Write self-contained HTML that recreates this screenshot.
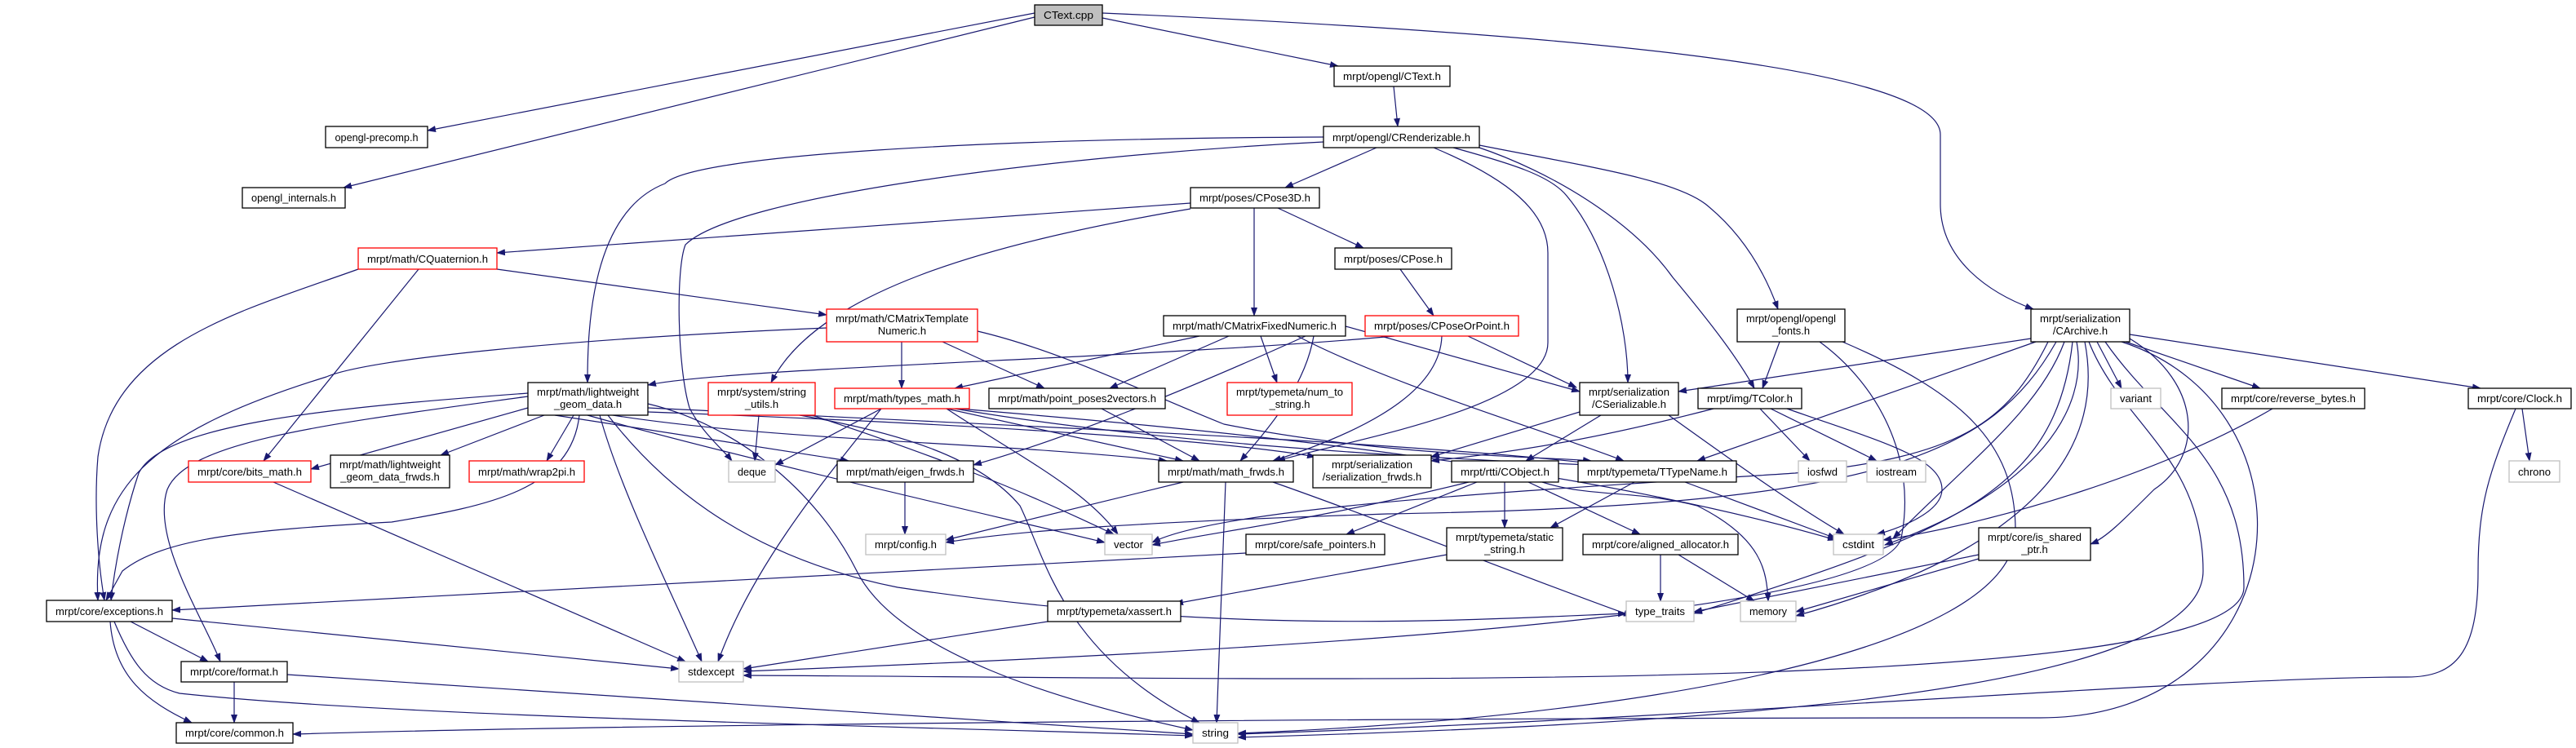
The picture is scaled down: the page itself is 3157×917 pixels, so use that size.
<!DOCTYPE html>
<html><head><meta charset="utf-8"><style>
html,body{margin:0;padding:0;background:#fff;}
svg{display:block;}
text{font-family:"Liberation Sans",Arial,sans-serif;font-size:13px;fill:#000;}
.e{fill:none;stroke:#191970;stroke-width:1.2;marker-end:url(#ah);}
.n{fill:#fff;stroke:#000;stroke-width:1.3;}
.r{fill:#fff;stroke:#ff0000;stroke-width:1.3;}
.g{fill:#fff;stroke:#bfbfbf;stroke-width:1.3;}
</style></head><body>
<svg width="3157" height="917" viewBox="0 0 3157 917" xmlns="http://www.w3.org/2000/svg">
<defs><marker id="ah" markerWidth="11" markerHeight="8" refX="10" refY="4" orient="auto" markerUnits="userSpaceOnUse"><path d="M0,0 L11,4 L0,8 z" fill="#191970"/></marker></defs>
<g>
<!-- edges -->
<path class="e" d="M1268,16 L524,160"/>
<path class="e" d="M1268,21 L421,230"/>
<path class="e" d="M1351,22 L1640,81"/>
<path class="e" d="M1351,16 C1900,40 2378,80 2378,165 L2378,250 C2378,320 2440,360 2492,379"/>
<path class="e" d="M1708,106 L1713,155"/>
<path class="e" d="M1687,181 L1575,230"/>
<path class="e" d="M1622,168 C1200,170 850,190 815,225 C725,260 720,400 720,469"/>
<path class="e" d="M1622,174 C1300,190 900,240 840,300 C828,330 830,450 845,500 C860,530 885,550 897,565"/>
<path class="e" d="M1757,181 C1850,220 1897,260 1897,310 L1897,420 C1897,500 1650,540 1565,565"/>
<path class="e" d="M1781,181 C1850,200 1900,215 1920,240 C1970,300 1995,400 1995,469"/>
<path class="e" d="M1810,180 C1900,210 2000,270 2050,340 C2100,400 2130,440 2150,476"/>
<path class="e" d="M1813,178 C1950,205 2050,220 2090,250 C2140,290 2165,340 2179,379"/>
<path class="e" d="M1459,249 L609,310"/>
<path class="e" d="M1459,256 C1200,300 1000,360 945,469"/>
<path class="e" d="M1566,255 L1671,304"/>
<path class="e" d="M1537,255 L1537,387"/>
<path class="e" d="M609,330 L1013,386"/>
<path class="e" d="M513,330 L323,565"/>
<path class="e" d="M439,330 C300,380 140,420 120,560 C115,620 120,690 128,736"/>
<path class="e" d="M1716,330 L1757,387"/>
<path class="e" d="M1013,402 C700,415 450,440 400,462 C180,530 112,600 120,736"/>
<path class="e" d="M1105,419 L1105,476"/>
<path class="e" d="M1155,419 L1280,476"/>
<path class="e" d="M1198,406 C1300,430 1400,480 1500,520 C1700,560 1900,560 1950,565"/>
<path class="e" d="M1470,412 L1170,476"/>
<path class="e" d="M1506,412 L1360,476"/>
<path class="e" d="M1545,412 L1565,469"/>
<path class="e" d="M1649,400 L1936,480"/>
<path class="e" d="M1610,412 C1600,470 1560,520 1520,565"/>
<path class="e" d="M1600,412 C1450,480 1300,540 1193,570"/>
<path class="e" d="M1590,412 C1700,470 1900,530 1990,565"/>
<path class="e" d="M1709,412 C1400,440 900,450 794,472"/>
<path class="e" d="M1799,412 L1932,475"/>
<path class="e" d="M1767,412 C1765,470 1700,520 1560,565"/>
<path class="e" d="M2181,419 L2160,476"/>
<path class="e" d="M2258,419 C2400,480 2470,540 2470,650 C2470,800 2000,880 1517,899"/>
<path class="e" d="M2230,419 C2300,470 2350,560 2330,660 C2300,760 1500,800 911,823"/>
<path class="e" d="M2489,415 L2057,480"/>
<path class="e" d="M2495,419 L2080,565"/>
<path class="e" d="M2570,419 L2600,476"/>
<path class="e" d="M2605,419 L2770,476"/>
<path class="e" d="M2610,410 L3040,476"/>
<path class="e" d="M2530,419 C2500,500 2420,560 2320,660"/>
<path class="e" d="M2545,419 C2560,500 2500,600 2310,668"/>
<path class="e" d="M2610,415 C2700,470 2700,560 2640,600 C2600,640 2580,660 2562,667"/>
<path class="e" d="M2520,419 C2440,560 2300,620 1700,630 C1400,640 1250,650 1159,665"/>
<path class="e" d="M2510,419 C2460,520 2400,560 2200,580 C1900,600 1500,620 1412,665"/>
<path class="e" d="M2560,419 C2600,520 2700,560 2700,700 C2700,860 2000,890 1517,904"/>
<path class="e" d="M2580,419 C2650,520 2750,560 2750,720 C2750,860 1500,830 911,828"/>
<path class="e" d="M2600,419 C2850,500 2820,880 2500,880 C1500,880 700,890 359,900"/>
<path class="e" d="M2555,419 C2590,600 2400,700 2201,755"/>
<path class="e" d="M2540,419 C2520,600 2400,650 2076,752"/>
<path class="e" d="M647,500 L381,575"/>
<path class="e" d="M667,509 L540,558"/>
<path class="e" d="M703,509 L670,565"/>
<path class="e" d="M647,482 C400,500 200,520 170,580 C150,640 140,700 136,736"/>
<path class="e" d="M647,486 C400,520 230,540 205,600 C185,660 250,760 270,811"/>
<path class="e" d="M680,509 L1040,565"/>
<path class="e" d="M700,500 C900,540 1200,540 1430,565"/>
<path class="e" d="M794,500 C1200,520 1700,540 1950,568"/>
<path class="e" d="M794,505 C1200,520 1500,540 1612,560"/>
<path class="e" d="M735,509 C760,600 820,720 860,811"/>
<path class="e" d="M720,509 C900,560 1250,640 1354,665"/>
<path class="e" d="M794,495 C900,520 1000,600 1050,700 C1100,800 1300,860 1462,895"/>
<path class="e" d="M745,509 C800,580 900,680 1100,720 C1500,780 1800,760 1993,752"/>
<path class="e" d="M710,509 C700,600 600,620 480,640 C300,650 200,660 150,700 L130,736"/>
<path class="e" d="M930,509 L925,565"/>
<path class="e" d="M995,509 C1150,560 1250,600 1365,655"/>
<path class="e" d="M980,509 C1100,530 1200,560 1250,620 C1280,680 1300,800 1470,886"/>
<path class="e" d="M1080,501 L950,570"/>
<path class="e" d="M1080,501 C1000,600 920,700 880,811"/>
<path class="e" d="M1160,501 C1250,560 1330,600 1370,655"/>
<path class="e" d="M1160,501 L1450,565"/>
<path class="e" d="M1170,501 C1400,540 1700,560 1950,570"/>
<path class="e" d="M1175,501 C1400,520 1900,560 2250,662"/>
<path class="e" d="M1350,501 L1470,565"/>
<path class="e" d="M1109,591 L1109,655"/>
<path class="e" d="M1450,591 L1159,662"/>
<path class="e" d="M1502,591 L1491,886"/>
<path class="e" d="M1560,591 C1700,640 1900,720 2000,755"/>
<path class="e" d="M335,591 L840,811"/>
<path class="e" d="M160,762 L255,811"/>
<path class="e" d="M135,762 C140,830 180,860 235,886"/>
<path class="e" d="M140,762 C160,810 180,840 220,850 C500,880 1100,890 1462,902"/>
<path class="e" d="M211,758 L832,820"/>
<path class="e" d="M287,836 L287,886"/>
<path class="e" d="M352,827 L1462,900"/>
<path class="e" d="M1527,678 L211,748"/>
<path class="e" d="M1773,680 L1440,740"/>
<path class="e" d="M1284,762 L911,820"/>
<path class="e" d="M1936,505 L1754,560"/>
<path class="e" d="M1962,509 L1870,565"/>
<path class="e" d="M2045,509 C2130,570 2200,620 2260,655"/>
<path class="e" d="M2157,501 L2218,565"/>
<path class="e" d="M2170,501 L2300,565"/>
<path class="e" d="M2190,501 C2300,540 2380,560 2380,600 C2380,630 2320,650 2300,655"/>
<path class="e" d="M2100,501 C1950,540 1850,555 1754,565"/>
<path class="e" d="M1810,591 L1650,655"/>
<path class="e" d="M1844,591 L1844,647"/>
<path class="e" d="M1873,591 L2010,655"/>
<path class="e" d="M1890,591 C1950,610 2000,600 2080,620 C2160,660 2165,700 2167,737"/>
<path class="e" d="M1800,591 C1600,640 1500,650 1412,668"/>
<path class="e" d="M2003,591 L1900,647"/>
<path class="e" d="M2065,591 L2250,660"/>
<path class="e" d="M2035,680 L2035,737"/>
<path class="e" d="M2057,680 L2150,737"/>
<path class="e" d="M2425,680 L2076,750"/>
<path class="e" d="M2425,685 L2201,750"/>
<path class="e" d="M2785,501 C2650,580 2450,640 2308,662"/>
<path class="e" d="M3091,501 L3100,565"/>
<path class="e" d="M3083,501 C3050,580 3037,620 3037,700 C3037,800 3010,830 2950,830 C2700,830 2100,880 1517,900"/>
</g>
<g>
<!-- nodes -->
<rect x="1268" y="6" width="83" height="25" fill="#bfbfbf" stroke="#000" stroke-width="1.3"/><text x="1309.5" y="23" text-anchor="middle" textLength="61" lengthAdjust="spacingAndGlyphs">CText.cpp</text>
<rect class="n" x="399" y="155" width="125" height="26"/><text x="461.5" y="173" text-anchor="middle" textLength="102" lengthAdjust="spacingAndGlyphs">opengl-precomp.h</text>
<rect class="n" x="297" y="230" width="126" height="25"/><text x="360" y="247" text-anchor="middle" textLength="104" lengthAdjust="spacingAndGlyphs">opengl_internals.h</text>
<rect class="n" x="1635" y="81" width="142" height="25"/><text x="1706" y="98" text-anchor="middle" textLength="120" lengthAdjust="spacingAndGlyphs">mrpt/opengl/CText.h</text>
<rect class="n" x="1622" y="155" width="191" height="26"/><text x="1717.5" y="173" text-anchor="middle" textLength="169" lengthAdjust="spacingAndGlyphs">mrpt/opengl/CRenderizable.h</text>
<rect class="n" x="1459" y="230" width="158" height="25"/><text x="1538" y="247" text-anchor="middle" textLength="136" lengthAdjust="spacingAndGlyphs">mrpt/poses/CPose3D.h</text>
<rect class="r" x="439" y="304" width="170" height="26"/><text x="524" y="322" text-anchor="middle" textLength="148" lengthAdjust="spacingAndGlyphs">mrpt/math/CQuaternion.h</text>
<rect class="n" x="1636" y="304" width="143" height="26"/><text x="1707.5" y="322" text-anchor="middle" textLength="121" lengthAdjust="spacingAndGlyphs">mrpt/poses/CPose.h</text>
<rect class="r" x="1013" y="379" width="185" height="40"/><text x="1105.5" y="395" text-anchor="middle" textLength="163" lengthAdjust="spacingAndGlyphs">mrpt/math/CMatrixTemplate</text><text x="1105.5" y="410" text-anchor="middle">Numeric.h</text>
<rect class="n" x="1426" y="387" width="223" height="25"/><text x="1537.5" y="404" text-anchor="middle" textLength="201" lengthAdjust="spacingAndGlyphs">mrpt/math/CMatrixFixedNumeric.h</text>
<rect class="r" x="1673" y="387" width="188" height="25"/><text x="1767" y="404" text-anchor="middle" textLength="166" lengthAdjust="spacingAndGlyphs">mrpt/poses/CPoseOrPoint.h</text>
<rect class="n" x="2129" y="379" width="132" height="40"/><text x="2195" y="395" text-anchor="middle" textLength="110" lengthAdjust="spacingAndGlyphs">mrpt/opengl/opengl</text><text x="2195" y="410" text-anchor="middle">_fonts.h</text>
<rect class="n" x="2489" y="379" width="121" height="40"/><text x="2549.5" y="395" text-anchor="middle" textLength="99" lengthAdjust="spacingAndGlyphs">mrpt/serialization</text><text x="2549.5" y="410" text-anchor="middle">/CArchive.h</text>
<rect class="n" x="647" y="469" width="147" height="40"/><text x="720.5" y="485" text-anchor="middle" textLength="125" lengthAdjust="spacingAndGlyphs">mrpt/math/lightweight</text><text x="720.5" y="500" text-anchor="middle">_geom_data.h</text>
<rect class="r" x="868" y="469" width="131" height="40"/><text x="933.5" y="485" text-anchor="middle" textLength="109" lengthAdjust="spacingAndGlyphs">mrpt/system/string</text><text x="933.5" y="500" text-anchor="middle">_utils.h</text>
<rect class="r" x="1023" y="476" width="165" height="25"/><text x="1105.5" y="493" text-anchor="middle" textLength="143" lengthAdjust="spacingAndGlyphs">mrpt/math/types_math.h</text>
<rect class="n" x="1212" y="476" width="216" height="25"/><text x="1320" y="493" text-anchor="middle" textLength="194" lengthAdjust="spacingAndGlyphs">mrpt/math/point_poses2vectors.h</text>
<rect class="r" x="1504" y="469" width="153" height="40"/><text x="1580.5" y="485" text-anchor="middle" textLength="131" lengthAdjust="spacingAndGlyphs">mrpt/typemeta/num_to</text><text x="1580.5" y="500" text-anchor="middle">_string.h</text>
<rect class="n" x="1936" y="469" width="121" height="40"/><text x="1996.5" y="485" text-anchor="middle" textLength="99" lengthAdjust="spacingAndGlyphs">mrpt/serialization</text><text x="1996.5" y="500" text-anchor="middle">/CSerializable.h</text>
<rect class="n" x="2081" y="476" width="127" height="25"/><text x="2144.5" y="493" text-anchor="middle" textLength="105" lengthAdjust="spacingAndGlyphs">mrpt/img/TColor.h</text>
<rect class="g" x="2587" y="476" width="61" height="25"/><text x="2617.5" y="493" text-anchor="middle" textLength="39" lengthAdjust="spacingAndGlyphs">variant</text>
<rect class="n" x="2723" y="476" width="175" height="25"/><text x="2810.5" y="493" text-anchor="middle" textLength="153" lengthAdjust="spacingAndGlyphs">mrpt/core/reverse_bytes.h</text>
<rect class="n" x="3025" y="476" width="126" height="25"/><text x="3088" y="493" text-anchor="middle" textLength="104" lengthAdjust="spacingAndGlyphs">mrpt/core/Clock.h</text>
<rect class="r" x="231" y="565" width="150" height="26"/><text x="306" y="583" text-anchor="middle" textLength="128" lengthAdjust="spacingAndGlyphs">mrpt/core/bits_math.h</text>
<rect class="n" x="405" y="558" width="146" height="40"/><text x="478" y="574" text-anchor="middle" textLength="124" lengthAdjust="spacingAndGlyphs">mrpt/math/lightweight</text><text x="478" y="589" text-anchor="middle">_geom_data_frwds.h</text>
<rect class="r" x="575" y="565" width="141" height="26"/><text x="645.5" y="583" text-anchor="middle" textLength="119" lengthAdjust="spacingAndGlyphs">mrpt/math/wrap2pi.h</text>
<rect class="g" x="893" y="565" width="57" height="26"/><text x="921.5" y="583" text-anchor="middle" textLength="35" lengthAdjust="spacingAndGlyphs">deque</text>
<rect class="n" x="1026" y="565" width="167" height="26"/><text x="1109.5" y="583" text-anchor="middle" textLength="145" lengthAdjust="spacingAndGlyphs">mrpt/math/eigen_frwds.h</text>
<rect class="n" x="1420" y="565" width="165" height="26"/><text x="1502.5" y="583" text-anchor="middle" textLength="143" lengthAdjust="spacingAndGlyphs">mrpt/math/math_frwds.h</text>
<rect class="n" x="1609" y="558" width="145" height="40"/><text x="1681.5" y="574" text-anchor="middle" textLength="99" lengthAdjust="spacingAndGlyphs">mrpt/serialization</text><text x="1681.5" y="589" text-anchor="middle">/serialization_frwds.h</text>
<rect class="n" x="1779" y="565" width="131" height="26"/><text x="1844.5" y="583" text-anchor="middle" textLength="109" lengthAdjust="spacingAndGlyphs">mrpt/rtti/CObject.h</text>
<rect class="n" x="1934" y="565" width="194" height="26"/><text x="2031" y="583" text-anchor="middle" textLength="172" lengthAdjust="spacingAndGlyphs">mrpt/typemeta/TTypeName.h</text>
<rect class="g" x="2204" y="565" width="59" height="26"/><text x="2233.5" y="583" text-anchor="middle" textLength="37" lengthAdjust="spacingAndGlyphs">iosfwd</text>
<rect class="g" x="2288" y="565" width="72" height="26"/><text x="2324" y="583" text-anchor="middle" textLength="50" lengthAdjust="spacingAndGlyphs">iostream</text>
<rect class="g" x="3075" y="565" width="62" height="26"/><text x="3106" y="583" text-anchor="middle" textLength="40" lengthAdjust="spacingAndGlyphs">chrono</text>
<rect class="g" x="1061" y="655" width="98" height="25"/><text x="1110" y="672" text-anchor="middle" textLength="76" lengthAdjust="spacingAndGlyphs">mrpt/config.h</text>
<rect class="g" x="1354" y="655" width="58" height="25"/><text x="1383" y="672" text-anchor="middle" textLength="36" lengthAdjust="spacingAndGlyphs">vector</text>
<rect class="n" x="1527" y="655" width="170" height="25"/><text x="1612" y="672" text-anchor="middle" textLength="148" lengthAdjust="spacingAndGlyphs">mrpt/core/safe_pointers.h</text>
<rect class="n" x="1773" y="647" width="142" height="40"/><text x="1844" y="663" text-anchor="middle" textLength="120" lengthAdjust="spacingAndGlyphs">mrpt/typemeta/static</text><text x="1844" y="678" text-anchor="middle">_string.h</text>
<rect class="n" x="1940" y="655" width="190" height="25"/><text x="2035" y="672" text-anchor="middle" textLength="168" lengthAdjust="spacingAndGlyphs">mrpt/core/aligned_allocator.h</text>
<rect class="g" x="2247" y="655" width="61" height="25"/><text x="2277.5" y="672" text-anchor="middle" textLength="39" lengthAdjust="spacingAndGlyphs">cstdint</text>
<rect class="n" x="2425" y="647" width="137" height="40"/><text x="2493.5" y="663" text-anchor="middle" textLength="115" lengthAdjust="spacingAndGlyphs">mrpt/core/is_shared</text><text x="2493.5" y="678" text-anchor="middle">_ptr.h</text>
<rect class="n" x="57" y="736" width="154" height="26"/><text x="134" y="754" text-anchor="middle" textLength="132" lengthAdjust="spacingAndGlyphs">mrpt/core/exceptions.h</text>
<rect class="n" x="1284" y="737" width="163" height="25"/><text x="1365.5" y="754" text-anchor="middle" textLength="141" lengthAdjust="spacingAndGlyphs">mrpt/typemeta/xassert.h</text>
<rect class="g" x="1993" y="737" width="83" height="25"/><text x="2034.5" y="754" text-anchor="middle" textLength="61" lengthAdjust="spacingAndGlyphs">type_traits</text>
<rect class="g" x="2133" y="737" width="68" height="25"/><text x="2167" y="754" text-anchor="middle" textLength="46" lengthAdjust="spacingAndGlyphs">memory</text>
<rect class="n" x="222" y="811" width="130" height="25"/><text x="287" y="828" text-anchor="middle" textLength="108" lengthAdjust="spacingAndGlyphs">mrpt/core/format.h</text>
<rect class="g" x="832" y="811" width="79" height="25"/><text x="871.5" y="828" text-anchor="middle" textLength="57" lengthAdjust="spacingAndGlyphs">stdexcept</text>
<rect class="n" x="216" y="886" width="143" height="25"/><text x="287.5" y="903" text-anchor="middle" textLength="121" lengthAdjust="spacingAndGlyphs">mrpt/core/common.h</text>
<rect class="g" x="1462" y="886" width="55" height="25"/><text x="1489.5" y="903" text-anchor="middle" textLength="33" lengthAdjust="spacingAndGlyphs">string</text>
</g>
</svg>
</body></html>
